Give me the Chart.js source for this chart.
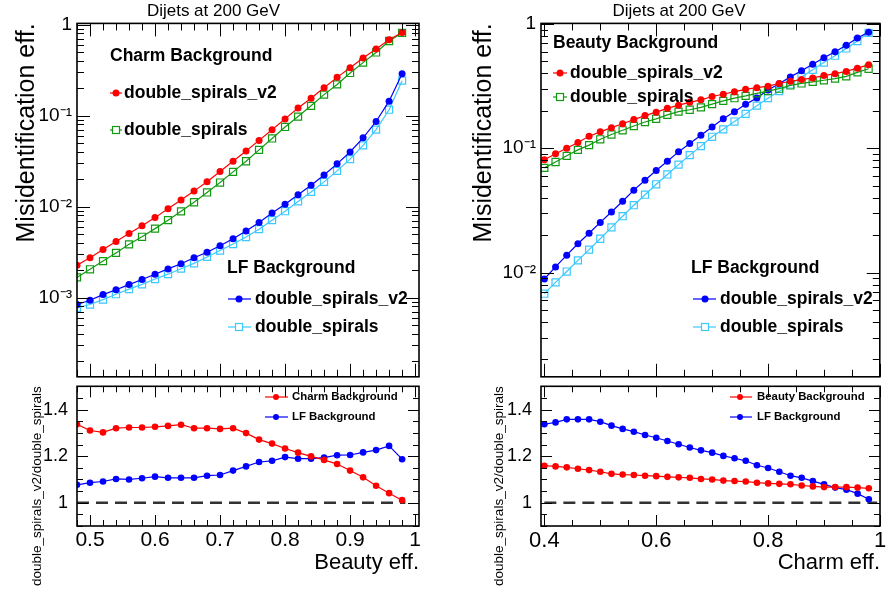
<!DOCTYPE html>
<html>
<head>
<meta charset="utf-8">
<script src="https://cdn.jsdelivr.net/npm/chart.js@4.4.1/dist/chart.umd.min.js"></script>
<style>
  html, body { margin: 0; padding: 0; background: #fff; }
  #wrap { position: relative; width: 886px; height: 590px; overflow: hidden; }
  canvas { position: absolute; }
</style>
</head>
<body>
<div id="wrap">
  <canvas id="leftMain" width="443" height="383" style="left:0;top:0"></canvas>
  <canvas id="leftRatio" width="443" height="207" style="left:0;top:383px"></canvas>
  <canvas id="rightMain" width="443" height="383" style="left:443px;top:0"></canvas>
  <canvas id="rightRatio" width="443" height="207" style="left:443px;top:383px"></canvas>
</div>
<script>
// Left panel: x = beauty efficiency
const beautyEff = [0.48, 0.50, 0.52, 0.54, 0.56, 0.58, 0.60, 0.62, 0.64, 0.66, 0.68, 0.70, 0.72,
  0.74, 0.76, 0.78, 0.80, 0.82, 0.84, 0.86, 0.88, 0.90, 0.92, 0.94, 0.96, 0.98];
const charmBkgV2 = [0.00227, 0.00274, 0.00337, 0.00414, 0.00506, 0.00616, 0.00757, 0.00947, 0.0118,
  0.0148, 0.0188, 0.0243, 0.0315, 0.0409, 0.0534, 0.070, 0.092, 0.121, 0.155, 0.202, 0.263, 0.335,
  0.43, 0.54, 0.68, 0.82];
const charmBkgOld = [0.00167, 0.00205, 0.00252, 0.0031, 0.00385, 0.00466, 0.00573, 0.0071, 0.00887,
  0.01117, 0.0143, 0.0184, 0.0241, 0.0315, 0.042, 0.0561, 0.075, 0.0975, 0.128, 0.170, 0.22, 0.294,
  0.382, 0.494, 0.66, 0.81];
const lfBkgV2Left = [0.00084, 0.000935, 0.00108, 0.00122, 0.00139, 0.00158, 0.00181, 0.00207, 0.00236,
  0.00274, 0.00315, 0.00372, 0.00443, 0.0054, 0.00669, 0.0085, 0.0106, 0.0135, 0.0172, 0.0223, 0.0295,
  0.0398, 0.057, 0.0861, 0.144, 0.288];
const lfBkgOldLeft = [0.000773, 0.00084, 0.00095, 0.00109, 0.00124, 0.0014, 0.0016, 0.00181, 0.00208,
  0.00238, 0.0028, 0.00329, 0.00388, 0.00463, 0.00565, 0.0071, 0.0089, 0.0114, 0.0145, 0.0187, 0.0247,
  0.0332, 0.0471, 0.0701, 0.116, 0.242];
const charmRatio = [1.337, 1.310, 1.302, 1.320, 1.323, 1.323, 1.326, 1.330, 1.335, 1.320, 1.320, 1.317,
  1.320, 1.299, 1.271, 1.254, 1.233, 1.215, 1.199, 1.184, 1.166, 1.138, 1.109, 1.073, 1.041, 1.011];
const lfRatioLeft = [1.077, 1.086, 1.091, 1.102, 1.100, 1.105, 1.112, 1.107, 1.107, 1.107, 1.116, 1.119,
  1.138, 1.156, 1.175, 1.180, 1.196, 1.189, 1.189, 1.194, 1.204, 1.205, 1.216, 1.226, 1.244, 1.187];

// Right panel: x = charm efficiency
const charmEff = [0.40, 0.42, 0.44, 0.46, 0.48, 0.50, 0.52, 0.54, 0.56, 0.58, 0.60, 0.62, 0.64, 0.66,
  0.68, 0.70, 0.72, 0.74, 0.76, 0.78, 0.80, 0.82, 0.84, 0.86, 0.88, 0.90, 0.92, 0.94, 0.96, 0.98];
const beautyBkgV2 = [0.0809, 0.0902, 0.100, 0.1114, 0.125, 0.1355, 0.1465, 0.1575, 0.170, 0.183, 0.195,
  0.2095, 0.222, 0.234, 0.245, 0.2606, 0.2717, 0.2853, 0.2977, 0.307, 0.316, 0.332, 0.346, 0.357, 0.368,
  0.384, 0.398, 0.415, 0.441, 0.469];
const beautyBkgOld = [0.0695, 0.0775, 0.0869, 0.097, 0.106, 0.118, 0.129, 0.1395, 0.151, 0.1625, 0.1725,
  0.1855, 0.197, 0.204, 0.2134, 0.2265, 0.2406, 0.2527, 0.2635, 0.2767, 0.2884, 0.3013, 0.320, 0.332,
  0.342, 0.3524, 0.363, 0.379, 0.408, 0.436];
const lfBkgV2Right = [0.00887, 0.0111, 0.0138, 0.01706, 0.0207, 0.0253, 0.0307, 0.0375, 0.046, 0.0552,
  0.0662, 0.0785, 0.0935, 0.109, 0.1274, 0.148, 0.1725, 0.197, 0.2254, 0.254, 0.294, 0.330, 0.375,
  0.420, 0.474, 0.535, 0.597, 0.674, 0.770, 0.859];
const lfBkgOldRight = [0.00676, 0.00834, 0.01019, 0.01253, 0.0153, 0.0187, 0.0231, 0.0284, 0.0348,
  0.0423, 0.0513, 0.0615, 0.0738, 0.0880, 0.104, 0.1236, 0.142, 0.164, 0.189, 0.220, 0.253, 0.288,
  0.326, 0.375, 0.428, 0.489, 0.555, 0.635, 0.729, 0.849];
const lfRatioRight = [1.337, 1.345, 1.358, 1.358, 1.358, 1.348, 1.331, 1.317, 1.305, 1.291, 1.279,
  1.265, 1.251, 1.237, 1.225, 1.215, 1.201, 1.191, 1.180, 1.161, 1.149, 1.133, 1.116, 1.107, 1.093,
  1.079, 1.065, 1.056, 1.039, 1.015];
const beautyRatio = [1.159, 1.156, 1.152, 1.146, 1.140, 1.133, 1.124, 1.121, 1.119, 1.116, 1.114, 1.111,
  1.109, 1.107, 1.102, 1.100, 1.095, 1.093, 1.091, 1.086, 1.083, 1.081, 1.079, 1.074, 1.070, 1.067,
  1.067, 1.067, 1.065, 1.062];

// Reference line at ratio = 1
const unityLineLeftX = [0.48, 0.985];
const unityLineRightX = [0.40, 0.995];
const unityLineY = [1, 1];

// Tick labels
const mainTicksLeft = [0.001, 0.01, 0.1, 1];
const mainLabelsLeft = ['10\u207B\u00B3', '10\u207B\u00B2', '10\u207B\u00B9', '1'];
const mainTicksRight = [0.01, 0.1, 1];
const mainLabelsRight = ['10\u207B\u00B2', '10\u207B\u00B9', '1'];
const ratioTicks = [1, 1.2, 1.4];
const ratioLabels = ['1', '1.2', '1.4'];
const beautyTicks = [0.5, 0.6, 0.7, 0.8, 0.9, 1.0];
const beautyLabels = ['0.5', '0.6', '0.7', '0.8', '0.9', '1'];
const charmTicks = [0.4, 0.6, 0.8, 1.0];
const charmLabels = ['0.4', '0.6', '0.8', '1'];

const RED = '#ff0000';
const GREEN = '#129a12';
const BLUE = '#0000ff';
const LIGHTBLUE = '#3cc8ff';

Chart.defaults.font.family = '"Liberation Sans", Arial, Helvetica, sans-serif';
Chart.defaults.color = '#000';
Chart.defaults.animation = false;

const pts = (xs, ys) => xs.map((x, i) => ({ x, y: ys[i] }));

const filledSet = (label, xs, ys, color, r = 3.5) => ({
  label, data: pts(xs, ys), borderColor: color, backgroundColor: color,
  borderWidth: 1.2, pointRadius: r, pointHoverRadius: r, pointBorderWidth: 0, tension: 0
});
const openSet = (label, xs, ys, color) => ({
  label, data: pts(xs, ys), borderColor: color, backgroundColor: 'rgba(0,0,0,0)',
  pointBackgroundColor: 'rgba(0,0,0,0)', pointBorderColor: color, pointStyle: 'rect',
  borderWidth: 1.2, pointRadius: 5, pointHoverRadius: 5, pointBorderWidth: 1.2, tension: 0
});
const unitySet = (xs) => ({
  label: 'unity', data: pts(xs, unityLineY), borderColor: '#333', borderWidth: 2.4,
  borderDash: [12, 7], pointRadius: 0, tension: 0
});

// Frame with inward ticks on all four sides, ROOT style
const tickValues = (scale, minor, major, log) => {
  const out = [];
  if (log) {
    for (let e = Math.floor(Math.log10(scale.min)); e <= Math.ceil(Math.log10(scale.max)); e++) {
      for (let m = 1; m <= 9; m++) {
        const v = m * Math.pow(10, e);
        if (v >= scale.min && v <= scale.max) out.push({ v, major: m === 1 });
      }
    }
  } else {
    for (let k = Math.ceil(scale.min / minor - 1e-6); k * minor <= scale.max + 1e-9; k++) {
      const v = k * minor;
      const q = v / major;
      out.push({ v, major: Math.abs(q - Math.round(q)) < 1e-6 });
    }
  }
  return out;
};

const rootFrame = {
  id: 'rootFrame',
  afterDatasetsDraw(chart, args, o) {
    const { ctx, chartArea: a, scales } = chart;
    ctx.save();
    ctx.strokeStyle = '#000';
    ctx.lineWidth = 1;
    ctx.beginPath();
    tickValues(scales.x, o.xMinor, o.xMajor, false).forEach(t => {
      const px = Math.round(scales.x.getPixelForValue(t.v)) + 0.5;
      const len = t.major ? o.xLen[0] : o.xLen[1];
      ctx.moveTo(px, a.bottom); ctx.lineTo(px, a.bottom - len);
      ctx.moveTo(px, a.top); ctx.lineTo(px, a.top + len);
    });
    tickValues(scales.y, o.yMinor, o.yMajor, o.yLog).forEach(t => {
      const py = Math.round(scales.y.getPixelForValue(t.v)) + 0.5;
      const len = t.major ? o.yLen[0] : o.yLen[1];
      ctx.moveTo(a.left, py); ctx.lineTo(a.left + len, py);
      ctx.moveTo(a.right, py); ctx.lineTo(a.right - len, py);
    });
    ctx.stroke();
    ctx.lineWidth = 1.6;
    ctx.strokeRect(a.left, a.top, a.right - a.left, a.bottom - a.top);
    ctx.restore();
  }
};

// Legend boxes drawn as in the original (header + marker entries)
const rootLegend = {
  id: 'rootLegend',
  afterDraw(chart, args, o) {
    const ctx = chart.ctx;
    ctx.save();
    ctx.textBaseline = 'middle';
    ctx.textAlign = 'left';
    ctx.fillStyle = '#000';
    (o.entries || []).forEach(e => {
      if (e.line) {
        ctx.strokeStyle = e.color;
        ctx.lineWidth = 1.2;
        ctx.beginPath();
        ctx.moveTo(e.line[0], e.y); ctx.lineTo(e.line[1], e.y);
        ctx.stroke();
      }
      if (e.marker === 'circle') {
        ctx.fillStyle = e.color;
        ctx.beginPath(); ctx.arc(e.mx, e.y, e.r || 3.5, 0, Math.PI * 2); ctx.fill();
      } else if (e.marker === 'square') {
        ctx.fillStyle = '#fff';
        ctx.fillRect(e.mx - 3.5, e.y - 3.5, 7, 7);
        ctx.strokeStyle = e.color; ctx.lineWidth = 1.2;
        ctx.strokeRect(e.mx - 3.5, e.y - 3.5, 7, 7);
      }
      ctx.fillStyle = '#000';
      ctx.font = `bold ${e.size}px "Liberation Sans", Arial, sans-serif`;
      ctx.fillText(e.text, e.x, e.y);
    });
    ctx.restore();
  }
};

const labelFrom = (values, labels) => (v) => {
  const i = values.findIndex(t => Math.abs(t - v) < 1e-9);
  return i >= 0 ? labels[i] : '';
};

const yAxisMain = (min, max, ticks, labels, width, titlePad) => ({
  type: 'logarithmic', min, max,
  afterBuildTicks: ax => { ax.ticks = ticks.map(value => ({ value })); },
  ticks: { callback: labelFrom(ticks, labels), font: { size: 19 }, padding: 5, autoSkip: false, maxRotation: 0 },
  grid: { display: false, drawTicks: false }, border: { display: false },
  title: { display: true, text: 'Misidentification eff.', align: 'end', font: { size: 25 }, padding: { top: titlePad, bottom: 0 } },
  afterFit: ax => { ax.width = width; ax.paddingTop = 0; ax.paddingBottom = 0; }
});

const yAxisRatio = (width, titlePad) => ({
  type: 'linear', min: 0.9, max: 1.5,
  afterBuildTicks: ax => { ax.ticks = ratioTicks.map(value => ({ value })); },
  ticks: { callback: labelFrom(ratioTicks, ratioLabels), font: { size: 18 }, padding: 9, autoSkip: false },
  grid: { display: false, drawTicks: false }, border: { display: false },
  title: { display: true, text: 'double_spirals_v2/double_spirals', align: 'end', font: { size: 13.5 }, padding: { top: titlePad, bottom: 0 } },
  afterFit: ax => { ax.width = width; ax.paddingTop = 0; ax.paddingBottom = 0; }
});

const xAxisRatio = (min, max, ticks, labels, title, size) => ({
  type: 'linear', min, max,
  afterBuildTicks: ax => { ax.ticks = ticks.map(value => ({ value })); },
  ticks: { callback: labelFrom(ticks, labels), font: { size }, padding: 2, autoSkip: false, maxRotation: 0 },
  grid: { display: false, drawTicks: false }, border: { display: false },
  title: { display: true, text: title, align: 'end', font: { size: 22 }, padding: { top: 0, bottom: 14 } },
  afterFit: ax => { ax.height = 64; ax.paddingLeft = 0; ax.paddingRight = 0; }
});

const baseOptions = (padLeft, padRight, scales, frame, legend, showTitle) => ({
  responsive: false,
  layout: { padding: { left: padLeft, right: padRight, top: 0, bottom: 0 } },
  scales,
  plugins: {
    legend: { display: false },
    tooltip: { enabled: false },
    title: {
      display: showTitle, text: 'Dijets at 200 GeV', color: '#000',
      font: { size: 17, weight: 'normal' }, padding: { top: 1, bottom: 2 }
    },
    rootFrame: frame,
    rootLegend: legend
  }
});

Chart.register(rootFrame, rootLegend);

// Left main
new Chart(document.getElementById('leftMain'), {
  type: 'line',
  data: {
    datasets: [
      filledSet('Charm double_spirals_v2', beautyEff, charmBkgV2, RED),
      openSet('Charm double_spirals', beautyEff, charmBkgOld, GREEN),
      filledSet('LF double_spirals_v2', beautyEff, lfBkgV2Left, BLUE),
      openSet('LF double_spirals', beautyEff, lfBkgOldLeft, LIGHTBLUE)
    ]
  },
  options: baseOptions(8, 24, {
    x: { type: 'linear', min: 0.48, max: 1.006, display: false },
    y: yAxisMain(1.35e-4, 1.03, mainTicksLeft, mainLabelsLeft, 69, 4)
  }, { xMinor: 0.02, xMajor: 0.1, yLog: true, xLen: [13, 7], yLen: [13, 7] }, {
    entries: [
      { text: 'Charm Background', x: 110, y: 56, size: 17.5 },
      { text: 'double_spirals_v2', x: 124, y: 93, size: 17.5, color: RED, marker: 'circle', line: [110, 122], mx: 116 },
      { text: 'double_spirals', x: 124, y: 130, size: 17.5, color: GREEN, marker: 'square', line: [110, 122], mx: 116 },
      { text: 'LF Background', x: 227, y: 268, size: 17.5 },
      { text: 'double_spirals_v2', x: 255, y: 299, size: 17.5, color: BLUE, marker: 'circle', line: [228, 251], mx: 239 },
      { text: 'double_spirals', x: 255, y: 327, size: 17.5, color: LIGHTBLUE, marker: 'square', line: [228, 251], mx: 239 }
    ]
  }, true)
});

// Left ratio
new Chart(document.getElementById('leftRatio'), {
  type: 'line',
  data: {
    datasets: [
      filledSet('Charm Background', beautyEff, charmRatio, RED, 3.3),
      filledSet('LF Background', beautyEff, lfRatioLeft, BLUE, 3.3),
      unitySet(unityLineLeftX)
    ]
  },
  options: baseOptions(8, 24, {
    x: xAxisRatio(0.48, 1.006, beautyTicks, beautyLabels, 'Beauty eff.', 21),
    y: yAxisRatio(69, 21)
  }, { xMinor: 0.02, xMajor: 0.1, yMinor: 0.05, yMajor: 0.2, yLog: false, xLen: [11, 6], yLen: [11, 6] }, {
    entries: [
      { text: 'Charm Background', x: 292, y: 14, size: 11.4, color: RED, marker: 'circle', r: 3, line: [265, 288], mx: 276 },
      { text: 'LF Background', x: 292, y: 34, size: 11.4, color: BLUE, marker: 'circle', r: 3, line: [265, 288], mx: 276 }
    ]
  }, false)
});

// Right main
new Chart(document.getElementById('rightMain'), {
  type: 'line',
  data: {
    datasets: [
      filledSet('Beauty double_spirals_v2', charmEff, beautyBkgV2, RED),
      openSet('Beauty double_spirals', charmEff, beautyBkgOld, GREEN),
      filledSet('LF double_spirals_v2', charmEff, lfBkgV2Right, BLUE),
      openSet('LF double_spirals', charmEff, lfBkgOldRight, LIGHTBLUE)
    ]
  },
  options: baseOptions(35, 6, {
    x: { type: 'linear', min: 0.394, max: 1.0, display: false },
    y: yAxisMain(1.45e-3, 1.01, mainTicksRight, mainLabelsRight, 63, -9)
  }, { xMinor: 0.05, xMajor: 0.2, yLog: true, xLen: [13, 7], yLen: [13, 7] }, {
    entries: [
      { text: 'Beauty Background', x: 110, y: 43, size: 17.5 },
      { text: 'double_spirals_v2', x: 127, y: 73, size: 17.5, color: RED, marker: 'circle', line: [110, 124], mx: 117 },
      { text: 'double_spirals', x: 127, y: 97, size: 17.5, color: GREEN, marker: 'square', line: [110, 124], mx: 117 },
      { text: 'LF Background', x: 248, y: 268, size: 17.5 },
      { text: 'double_spirals_v2', x: 277, y: 299, size: 17.5, color: BLUE, marker: 'circle', line: [250, 273], mx: 262 },
      { text: 'double_spirals', x: 277, y: 327, size: 17.5, color: LIGHTBLUE, marker: 'square', line: [250, 273], mx: 262 }
    ]
  }, true)
});

// Right ratio
new Chart(document.getElementById('rightRatio'), {
  type: 'line',
  data: {
    datasets: [
      filledSet('Beauty Background', charmEff, beautyRatio, RED, 3.3),
      filledSet('LF Background', charmEff, lfRatioRight, BLUE, 3.3),
      unitySet(unityLineRightX)
    ]
  },
  options: baseOptions(35, 6, {
    x: xAxisRatio(0.394, 1.0, charmTicks, charmLabels, 'Charm eff.', 22),
    y: yAxisRatio(63, 13)
  }, { xMinor: 0.05, xMajor: 0.2, yMinor: 0.05, yMajor: 0.2, yLog: false, xLen: [11, 6], yLen: [11, 6] }, {
    entries: [
      { text: 'Beauty Background', x: 314, y: 14, size: 11.4, color: RED, marker: 'circle', r: 3, line: [287, 309], mx: 297 },
      { text: 'LF Background', x: 314, y: 34, size: 11.4, color: BLUE, marker: 'circle', r: 3, line: [287, 309], mx: 297 }
    ]
  }, false)
});
</script>
</body>
</html>
